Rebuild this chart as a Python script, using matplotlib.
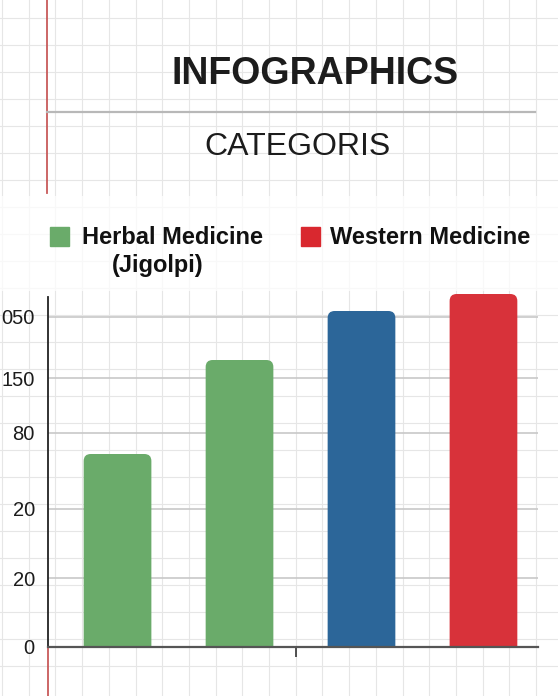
import matplotlib
matplotlib.use("Agg")
import matplotlib.pyplot as plt
import numpy as np
from matplotlib.patches import FancyBboxPatch, Rectangle

# data (values in the chart's own axis units)
categories = ["Herbal A", "Herbal B", "Western A", "Western B"]
values = [193, 287, 336, 353]
bar_colors = ["#6aab6a", "#6aab6a", "#2c6699", "#d8323a"]
tick_pos = [0, 69, 138, 214, 269, 330]
tick_labels = ["0", "20", "20", "80", "150", "050"]
legend_labels = ["Herbal Medicine", "Western Medicine"]
legend_colors = ["#6aab6a", "#d9282f"]

W, H = 558, 696
fig = plt.figure(figsize=(W / 100, H / 100), dpi=100)
fig.patch.set_facecolor("white")

# graph paper background, in pixel coordinates
bg = fig.add_axes([0, 0, 1, 1])
bg.set_xlim(0, W)
bg.set_ylim(H, 0)
bg.set_axis_off()
for x in np.arange(2, W, 26.7):
    bg.axvline(x, color="#e6e6e6", lw=0.8, zorder=0)
for y in np.arange(666, 0, -27):
    bg.axhline(y, color="#e6e6e6", lw=0.8, zorder=0)
bg.add_patch(Rectangle((0, 196), W, 95, color="white", alpha=0.75, lw=0, zorder=1))
bg.plot([47, 47], [0, 193], color="#c85a5a", lw=1.3, zorder=2)
bg.plot([47, 535], [112, 112], color="#b8b8b8", lw=1.6, zorder=2)

fs = "Liberation Sans"
fig.text(315 / W, 1 - 84 / H, "INFOGRAPHICS", ha="center", va="baseline",
         fontsize=27, fontweight="bold", family=fs, color="#1c1c1c")
fig.text(298 / W, 1 - 155 / H, "CATEGORIS", ha="center", va="baseline",
         fontsize=23, family=fs, color="#1c1c1c")

# legend
bg.add_patch(Rectangle((50, 227), 19, 19, color=legend_colors[0], zorder=3))
bg.add_patch(Rectangle((301, 227), 19, 19, color=legend_colors[1], zorder=3))
fig.text(82 / W, 1 - 244 / H, legend_labels[0], ha="left", va="baseline",
         fontsize=17, fontweight="bold", family=fs, color="#111111")
fig.text(158 / W, 1 - 272 / H, "(Jigolpi)", ha="center", va="baseline",
         fontsize=17, fontweight="bold", family=fs, color="#111111")
fig.text(330 / W, 1 - 244 / H, legend_labels[1], ha="left", va="baseline",
         fontsize=17, fontweight="bold", family=fs, color="#111111")

# chart axes: x 48..538 px, y from 292 px down to the bottom edge
ax = fig.add_axes([48 / W, 0, 490 / W, (H - 292) / H])
ax.patch.set_alpha(0)
x = np.arange(len(categories))
ax.set_xlim(-0.57, 3.447)
ax.set_ylim(-49, 355)

width = 0.555
r = 7 / 122
clip = Rectangle((-1, 0), 10, 1000, transform=ax.transData)
for xi, v, c in zip(x, values, bar_colors):
    p = FancyBboxPatch((xi - width / 2, -20), width, v + 20,
                       boxstyle=f"round,pad=0,rounding_size={r}",
                       mutation_aspect=122, fc=c, ec="none", zorder=3)
    ax.add_patch(p)
    p.set_clip_path(clip)

for s in ["top", "right"]:
    ax.spines[s].set_visible(False)
ax.spines["left"].set_bounds(0, 350)
ax.spines["left"].set_color("#222222")
ax.spines["left"].set_linewidth(1.3)
ax.spines["bottom"].set_position(("data", 0))
ax.spines["bottom"].set_color("#555555")
ax.spines["bottom"].set_linewidth(1.6)
ax.spines["bottom"].set_zorder(4)
ax.plot([-0.57, -0.57], [-49, 0], color="#c85a5a", lw=1.3, clip_on=False, zorder=4)

ax.set_yticks(tick_pos)
ax.set_yticklabels(tick_labels, family=fs, fontsize=14.5, color="#1c1c1c")
ax.tick_params(axis="y", length=0, pad=9.5)
ax.yaxis.grid(True, color="#c8c8c8", lw=1.2, zorder=1)
ax.set_axisbelow(True)

ax.set_xticks([1.46])
ax.set_xticklabels([""])
ax.tick_params(axis="x", length=7, width=1.2, color="#333333", direction="out")

fig.savefig("out.png", dpi=100)
